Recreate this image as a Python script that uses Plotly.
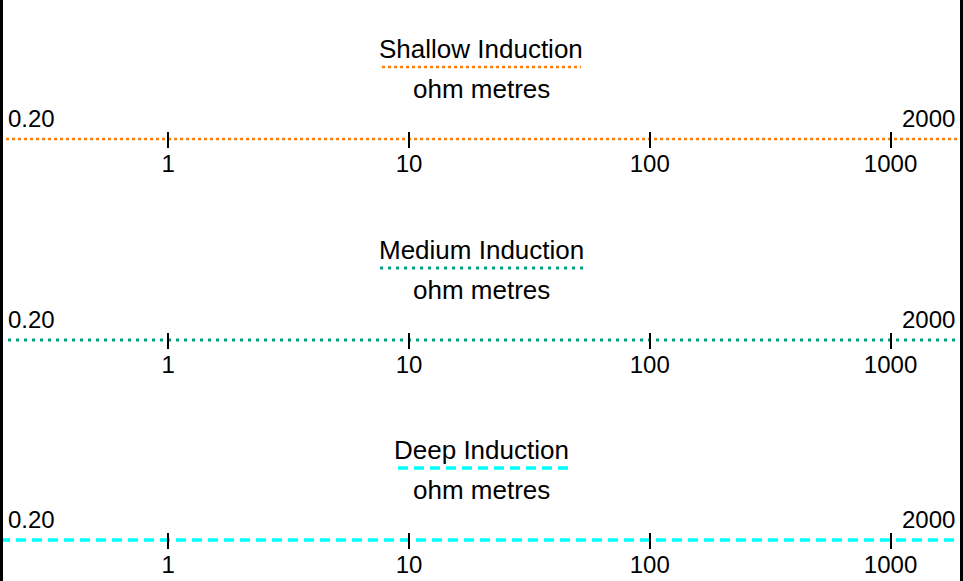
import math
import plotly.graph_objects as go

# ---- data ----
curve_names = ["Shallow Induction", "Medium Induction", "Deep Induction"]
curve_units = ["ohm metres", "ohm metres", "ohm metres"]
scale_min = [0.2, 0.2, 0.2]
scale_max = [2000, 2000, 2000]
min_labels = ["0.20", "0.20", "0.20"]
max_labels = ["2000", "2000", "2000"]
tick_values = [1, 10, 100, 1000]
tick_labels = ["1", "10", "100", "1000"]

# ---- styles / layout ----
W, H = 963, 581
colors = ["#ff7f0e", "#00a080", "#00ffff"]
dashes = ["3px,3px", "3px,5px", "10px,6px"]
widths = [2.5, 3, 3.5]
swatch_x = [(382, 581), (380, 583), (398, 573)]
track_offset = [0, 201, 401]
FONT = "Liberation Sans, Arial, sans-serif"
FS = 24
FS_T = 26

def py(p):
    return 1 - p / H

fig = go.Figure()
annotations = []
shapes = []
for i, name in enumerate(curve_names):
    off = track_offset[i]
    ax = "x" if i == 0 else f"x{i+1}"
    axkey = "xaxis" if i == 0 else f"xaxis{i+1}"
    line_y = py(139 + off)
    fig.add_trace(go.Scatter(
        x=[scale_min[i], scale_max[i]], y=[line_y, line_y],
        xaxis=ax, yaxis="y", mode="lines", showlegend=False,
        line=dict(color=colors[i], dash=dashes[i], width=widths[i]),
        hoverinfo="skip", cliponaxis=False,
    ))
    axis = dict(
        type="log",
        range=[math.log10(scale_min[i]), math.log10(scale_max[i])],
        domain=[0, 1], anchor="free", position=py(131 + off),
        showgrid=False, zeroline=False, showline=False,
        ticks="outside", ticklen=16, tickwidth=2, tickcolor="black",
        tickvals=tick_values, ticktext=tick_labels, ticklabelstandoff=-5,
        tickfont=dict(family=FONT, size=FS, color="black"),
        fixedrange=True,
    )
    if i > 0:
        axis["overlaying"] = "x"
    fig.layout[axkey] = axis
    # title, swatch, units
    annotations.append(dict(text=name, xref="paper", yref="paper", x=0.4995, y=py(49 + off),
                            xanchor="center", yanchor="middle", showarrow=False,
                            font=dict(family=FONT, size=FS_T, color="black")))
    annotations.append(dict(text=curve_units[i], xref="paper", yref="paper", x=0.4995, y=py(89 + off),
                            xanchor="center", yanchor="middle", showarrow=False,
                            font=dict(family=FONT, size=FS_T, color="black")))
    shapes.append(dict(type="line", xref="paper", yref="paper",
                       x0=swatch_x[i][0] / W, x1=swatch_x[i][1] / W,
                       y0=py(67 + off), y1=py(67 + off),
                       line=dict(color=colors[i], dash=dashes[i], width=widths[i])))
    # scale end labels
    annotations.append(dict(text=min_labels[i], xref=ax, yref="paper",
                            x=math.log10(scale_min[i]), y=py(118 + off), xshift=6,
                            xanchor="left", yanchor="middle", showarrow=False,
                            font=dict(family=FONT, size=FS, color="black")))
    annotations.append(dict(text=max_labels[i], xref=ax, yref="paper",
                            x=math.log10(scale_max[i]), y=py(118 + off), xshift=-6,
                            xanchor="right", yanchor="middle", showarrow=False,
                            font=dict(family=FONT, size=FS, color="black")))

# borders
shapes.append(dict(type="line", xref="paper", yref="paper", x0=1.5 / W, x1=1.5 / W, y0=0, y1=1,
                   line=dict(color="black", width=3)))
shapes.append(dict(type="line", xref="paper", yref="paper", x0=961.5 / W, x1=961.5 / W, y0=0, y1=1,
                   line=dict(color="black", width=3)))

fig.update_layout(
    width=W, height=H,
    margin=dict(l=0, r=0, t=0, b=0),
    paper_bgcolor="white", plot_bgcolor="white",
    yaxis=dict(range=[0, 1], domain=[0, 1], visible=False, fixedrange=True, anchor="x"),
    annotations=annotations, shapes=shapes,
    showlegend=False,
)
fig.write_html("out.html", config={"displayModeBar": False},
               post_script="document.body.style.margin='0';document.body.style.overflow='hidden';")
